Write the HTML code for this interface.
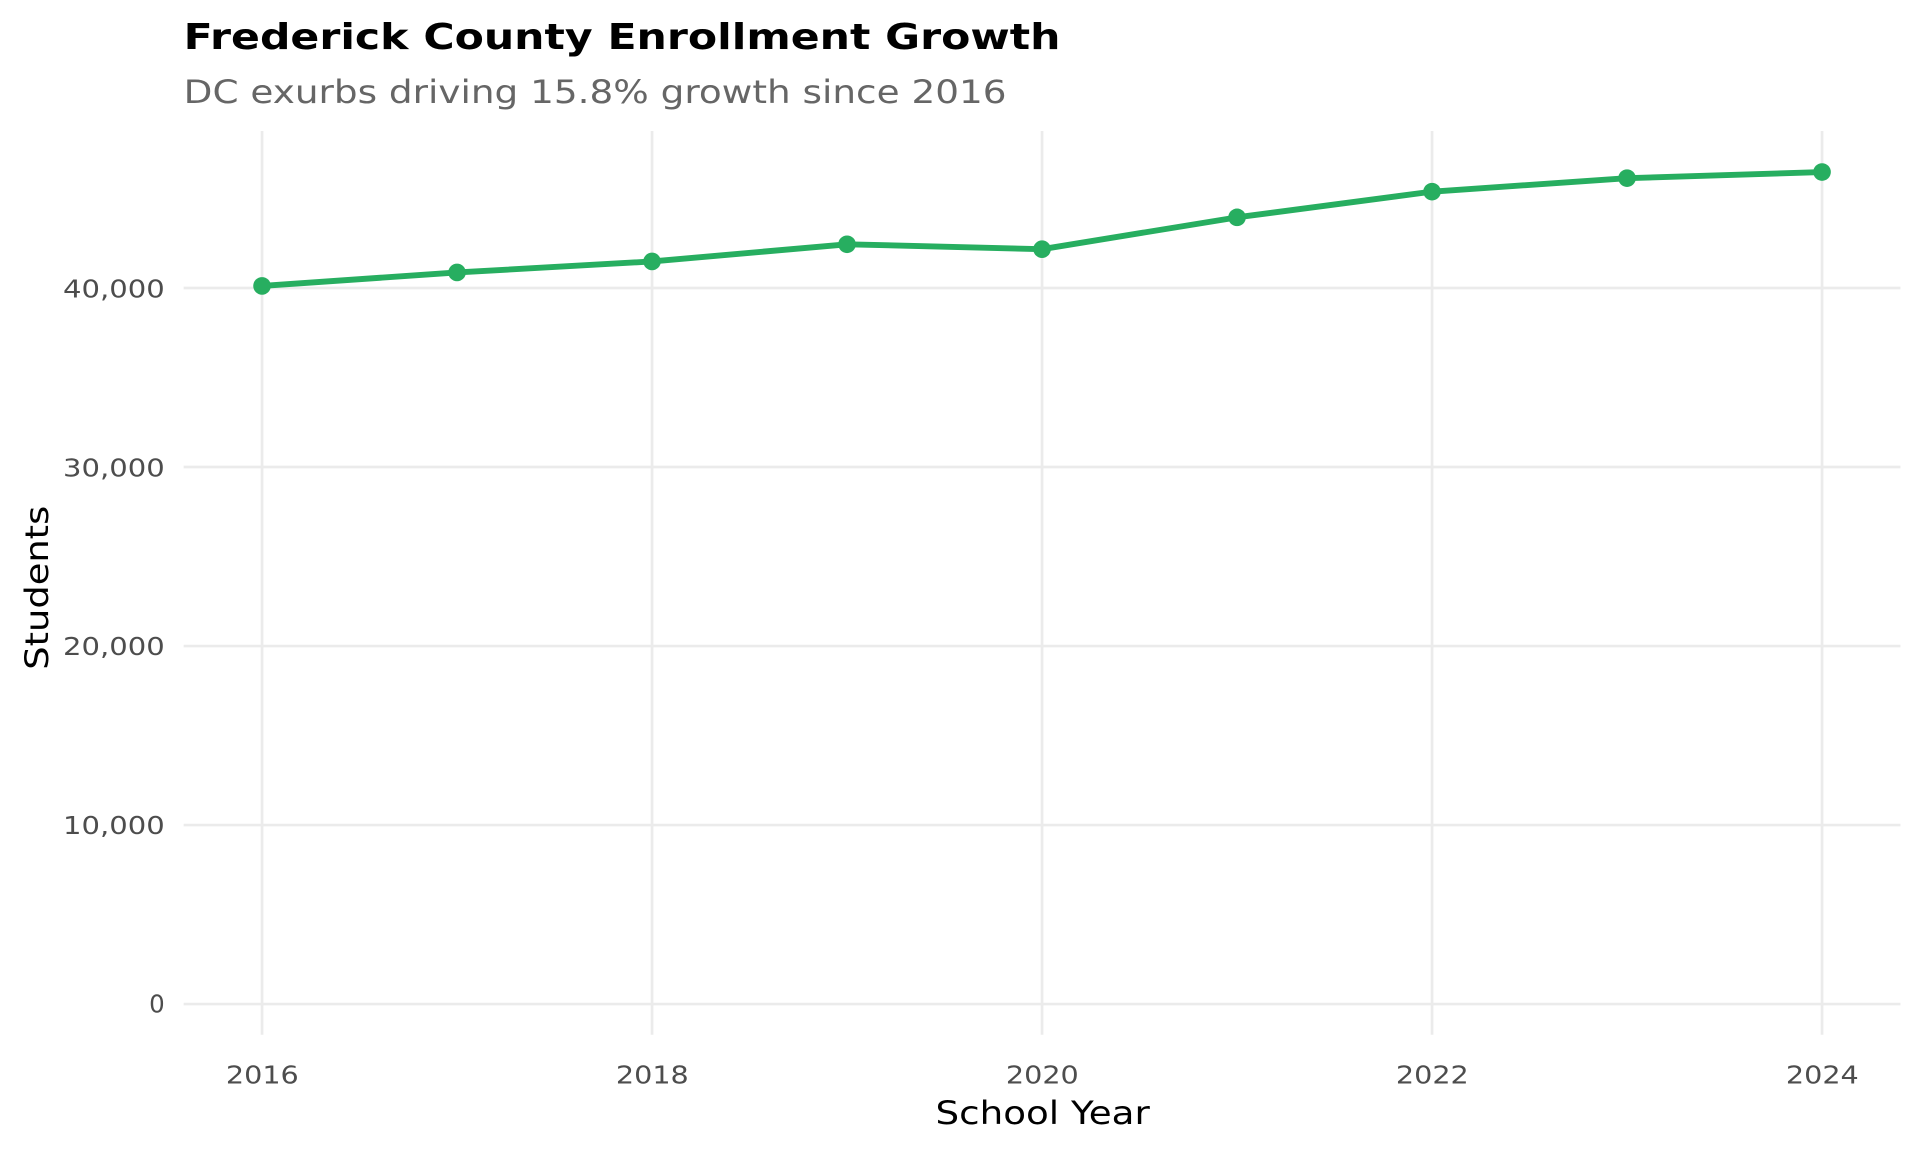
<!DOCTYPE html>
<html><head><meta charset="utf-8"><style>html,body{margin:0;padding:0;background:#fff}svg{display:block}</style></head>
<body>
<svg width="1920" height="1152" viewBox="0 0 1568 940.8" xmlns="http://www.w3.org/2000/svg" font-family="DejaVu Sans, Liberation Sans, sans-serif">
<rect width="1568" height="941" fill="#fff"/>
<g stroke="#ebebeb" stroke-width="2.2">
<line x1="150" x2="1552" y1="820" y2="820"/>
<line x1="150" x2="1552" y1="673.8" y2="673.8"/>
<line x1="150" x2="1552" y1="527.6" y2="527.6"/>
<line x1="150" x2="1552" y1="381.4" y2="381.4"/>
<line x1="150" x2="1552" y1="235.2" y2="235.2"/>
<line x1="214" x2="214" y1="107" y2="845"/>
<line x1="532.5" x2="532.5" y1="107" y2="845"/>
<line x1="851" x2="851" y1="107" y2="845"/>
<line x1="1169.5" x2="1169.5" y1="107" y2="845"/>
<line x1="1488" x2="1488" y1="107" y2="845"/>
</g>
<polyline fill="none" stroke="#27ae60" stroke-width="4.8" stroke-linejoin="round" points="214,233.5 373.25,222.5 532.5,213.5 691.75,199.5 851,203.5 1010.25,177.5 1169.5,156.5 1328.75,145.5 1488,140.5"/>
<g fill="#27ae60">
<circle cx="214" cy="233.5" r="7.2"/><circle cx="373.25" cy="222.5" r="7.2"/><circle cx="532.5" cy="213.5" r="7.2"/><circle cx="691.75" cy="199.5" r="7.2"/><circle cx="851" cy="203.5" r="7.2"/><circle cx="1010.25" cy="177.5" r="7.2"/><circle cx="1169.5" cy="156.5" r="7.2"/><circle cx="1328.75" cy="145.5" r="7.2"/><circle cx="1488" cy="140.5" r="7.2"/>
</g>
<g fill="#4d4d4d" font-size="20" text-anchor="end">
<text x="134.5" y="827">0</text>
<text x="134.5" y="681" textLength="83" lengthAdjust="spacingAndGlyphs">10,000</text>
<text x="134.5" y="535" textLength="83" lengthAdjust="spacingAndGlyphs">20,000</text>
<text x="134.5" y="389" textLength="83" lengthAdjust="spacingAndGlyphs">30,000</text>
<text x="134.5" y="243" textLength="83" lengthAdjust="spacingAndGlyphs">40,000</text>
</g>
<g fill="#4d4d4d" font-size="20">
<text x="184.5" y="885" textLength="59.5" lengthAdjust="spacingAndGlyphs">2016</text>
<text x="503" y="885" textLength="59.5" lengthAdjust="spacingAndGlyphs">2018</text>
<text x="821.5" y="885" textLength="59.5" lengthAdjust="spacingAndGlyphs">2020</text>
<text x="1140" y="885" textLength="59.5" lengthAdjust="spacingAndGlyphs">2022</text>
<text x="1458.5" y="885" textLength="59.5" lengthAdjust="spacingAndGlyphs">2024</text>
</g>
<text x="764" y="918" font-size="26" fill="#000" textLength="175" lengthAdjust="spacingAndGlyphs">School Year</text>
<text transform="translate(39,547) rotate(-90)" font-size="26" fill="#000" textLength="134" lengthAdjust="spacingAndGlyphs">Students</text>
<text x="150" y="40" font-size="29" font-weight="bold" fill="#000" textLength="716" lengthAdjust="spacingAndGlyphs">Frederick County Enrollment Growth</text>
<text x="150" y="84" font-size="26" fill="#666" textLength="672" lengthAdjust="spacingAndGlyphs">DC exurbs driving 15.8% growth since 2016</text>
</svg>
</body></html>
